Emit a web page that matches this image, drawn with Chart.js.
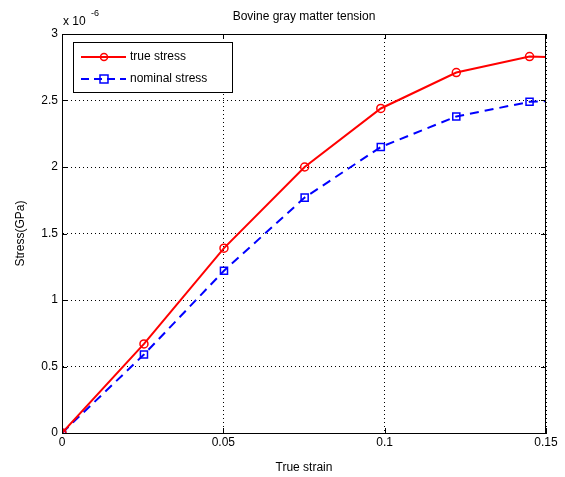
<!DOCTYPE html>
<html>
<head>
<meta charset="utf-8">
<script src="https://cdn.jsdelivr.net/npm/chart.js@4/dist/chart.umd.min.js"></script>
<style>
  html, body { margin: 0; padding: 0; background: #fff; }
  #wrap { width: 565px; height: 477px; }
</style>
</head>
<body>
<div id="wrap"><canvas id="chart" width="565" height="477"></canvas></div>
<script>
// values (stress in units of 1e-6 GPa)
const strain = [0, 0.0254, 0.0502, 0.0752, 0.0988, 0.1222, 0.1449, 0.168];
const trueStress = [0, 0.67, 1.39, 2.0, 2.44, 2.71, 2.83, 2.82];
const nominalStress = [0, 0.59, 1.22, 1.77, 2.15, 2.38, 2.49, 2.51];
const xTicks = [0, 0.05, 0.1, 0.15];
const yTicks = [0, 0.5, 1, 1.5, 2, 2.5, 3];
const seriesNames = ['true stress', 'nominal stress'];

const FONT = 'Liberation Sans, Arial, sans-serif';

const toPoints = (ys) => strain.map((x, i) => ({ x, y: ys[i] }));

// boxed axes, inward ticks, exponent label, title and legend like matlab
const matlabBits = {
  id: 'matlabBits',
  afterDatasetsDraw(chart) {
    const { ctx, chartArea: a, scales } = chart;
    ctx.save();
    ctx.strokeStyle = '#000';
    ctx.lineWidth = 1;
    ctx.strokeRect(a.left + 0.5, a.top + 0.5, a.right - a.left - 1, a.bottom - a.top);

    ctx.beginPath();
    xTicks.forEach((v) => {
      const x = Math.round(scales.x.getPixelForValue(v)) + 0.5;
      ctx.moveTo(x, a.bottom); ctx.lineTo(x, a.bottom - 5);
      ctx.moveTo(x, a.top); ctx.lineTo(x, a.top + 5);
    });
    yTicks.forEach((v) => {
      const y = Math.round(scales.y.getPixelForValue(v)) + 0.5;
      ctx.moveTo(a.left, y); ctx.lineTo(a.left + 5, y);
      ctx.moveTo(a.right, y); ctx.lineTo(a.right - 5, y);
    });
    ctx.stroke();

    // title
    ctx.fillStyle = '#000';
    ctx.font = '12px ' + FONT;
    ctx.textAlign = 'center';
    ctx.textBaseline = 'middle';
    ctx.fillText('Bovine gray matter tension', (a.left + a.right) / 2, 17);

    // exponent
    ctx.textAlign = 'left';
    ctx.font = '12px ' + FONT;
    ctx.fillText('x 10', a.left + 1, 22);
    ctx.font = '9px ' + FONT;
    ctx.fillText('-6', a.left + 29, 14);

    // legend
    const lx = 73, ly = 42, lw = 159, lh = 50;
    ctx.fillStyle = '#fff';
    ctx.fillRect(lx, ly, lw, lh);
    ctx.strokeStyle = '#000';
    ctx.strokeRect(lx + 0.5, ly + 0.5, lw, lh);
    const rows = [
      { name: seriesNames[0], color: 'rgb(255,0,0)', dash: [], marker: 'circle', y: ly + 15 },
      { name: seriesNames[1], color: 'rgb(0,0,255)', dash: [8, 5], marker: 'rect', y: ly + 37 },
    ];
    rows.forEach((r) => {
      ctx.strokeStyle = r.color;
      ctx.lineWidth = 2;
      ctx.setLineDash(r.dash);
      ctx.beginPath();
      ctx.moveTo(lx + 8, r.y); ctx.lineTo(lx + 53, r.y);
      ctx.stroke();
      ctx.setLineDash([]);
      ctx.lineWidth = 1.5;
      ctx.beginPath();
      if (r.marker === 'circle') {
        ctx.arc(lx + 31, r.y, 3.5, 0, Math.PI * 2);
      } else {
        ctx.rect(lx + 27, r.y - 4, 8, 8);
      }
      ctx.stroke();
      ctx.fillStyle = '#000';
      ctx.font = '12px ' + FONT;
      ctx.textAlign = 'left';
      ctx.fillText(r.name, lx + 57, r.y);
    });
    ctx.restore();
  },
};

new Chart(document.getElementById('chart'), {
  type: 'scatter',
  data: {
    datasets: [
      {
        label: seriesNames[0],
        data: toPoints(trueStress),
        showLine: true,
        borderColor: 'rgb(255,0,0)',
        borderWidth: 2,
        pointStyle: 'circle',
        pointRadius: 4,
        pointBorderWidth: 1.5,
        pointBorderColor: 'rgb(255,0,0)',
        pointBackgroundColor: 'rgba(0,0,0,0)',
      },
      {
        label: seriesNames[1],
        data: toPoints(nominalStress),
        showLine: true,
        borderColor: 'rgb(0,0,255)',
        borderWidth: 2,
        borderDash: [9, 6],
        pointStyle: 'rect',
        pointRadius: 5,
        pointBorderWidth: 1.5,
        pointBorderColor: 'rgb(0,0,255)',
        pointBackgroundColor: 'rgba(0,0,0,0)',
      },
    ],
  },
  options: {
    responsive: false,
    animation: false,
    layout: { padding: { top: 34, right: 19, left: 0, bottom: 0 } },
    plugins: {
      legend: { display: false },
      tooltip: { enabled: false },
    },
    scales: {
      x: {
        type: 'linear',
        min: 0,
        max: 0.15,
        afterFit: (s) => { s.height = 44; },
        afterBuildTicks: (s) => { s.ticks = xTicks.map((v) => ({ value: v })); },
        ticks: {
          color: '#000',
          font: { family: FONT, size: 12 },
          padding: 2,
          maxRotation: 0,
          callback: (v) => String(v),
        },
        grid: {
          color: '#000',
          lineWidth: 1,
          tickLength: 0,
          drawTicks: false,
        },
        border: { display: true, color: '#000', dash: [1, 3] },
        title: {
          display: true,
          text: 'True strain',
          color: '#000',
          font: { family: FONT, size: 12 },
          padding: { top: 4, bottom: 2 },
        },
      },
      y: {
        type: 'linear',
        min: 0,
        max: 3,
        afterFit: (s) => { s.width = 62; },
        afterBuildTicks: (s) => { s.ticks = yTicks.map((v) => ({ value: v })); },
        ticks: {
          color: '#000',
          font: { family: FONT, size: 12 },
          padding: 4,
          callback: (v) => String(v),
        },
        grid: {
          color: '#000',
          lineWidth: 1,
          tickLength: 0,
          drawTicks: false,
        },
        border: { display: true, color: '#000', dash: [1, 3] },
        title: {
          display: true,
          text: 'Stress(GPa)',
          color: '#000',
          font: { family: FONT, size: 12 },
          padding: { top: 13, bottom: 0 },
        },
      },
    },
  },
  plugins: [matlabBits],
});
</script>
</body>
</html>
